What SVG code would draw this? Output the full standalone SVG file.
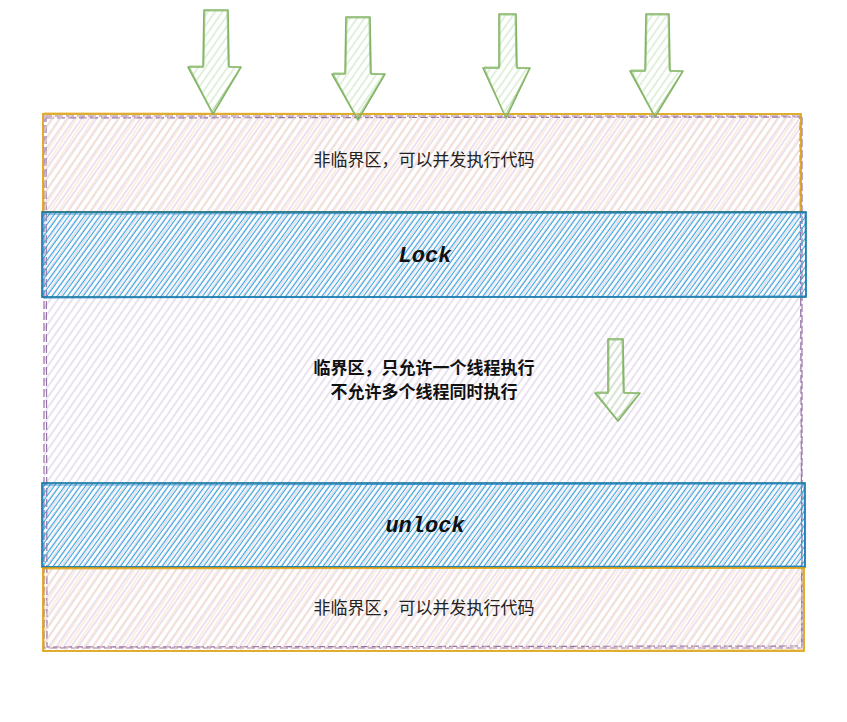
<svg xmlns="http://www.w3.org/2000/svg" width="847" height="722" viewBox="0 0 847 722">
<defs>
<pattern id="hPurple" width="6" height="6" patternUnits="userSpaceOnUse" patternTransform="rotate(35)">
<line x1="3" y1="0" x2="3" y2="6" stroke="#dccfe5" stroke-width="1.2"/>
</pattern>
<pattern id="hOrange" width="7" height="7" patternUnits="userSpaceOnUse" patternTransform="rotate(33)">
<line x1="3" y1="0" x2="3" y2="7" stroke="#fcdcc2" stroke-width="1.3" stroke-opacity="0.8"/>
</pattern>
<pattern id="hBlue" width="4.2" height="4.2" patternUnits="userSpaceOnUse" patternTransform="rotate(36)">
<line x1="2" y1="0" x2="2" y2="4.2" stroke="#35a6e0" stroke-width="1.1"/>
</pattern>
<pattern id="hGreen" width="6" height="6" patternUnits="userSpaceOnUse" patternTransform="rotate(35)">
<line x1="3" y1="0" x2="3" y2="6" stroke="#cde6c4" stroke-width="1.2"/>
</pattern>
<style>
.purple{fill:url(#hPurple);stroke:#9673a6;stroke-width:1.2;stroke-dasharray:8 3}
.orange{fill:url(#hOrange);stroke:#d79b00;stroke-width:1.6}
.orange2{fill:none;stroke:#e3ab2a;stroke-width:1;stroke-opacity:0.8}
.blue{fill:url(#hBlue);stroke:#10739e;stroke-width:1.6}
.blue2{fill:none;stroke:#1b7fc0;stroke-width:1;stroke-opacity:0.8}
.arrow{fill:url(#hGreen);stroke:#82b366;stroke-width:1.6;stroke-linejoin:round}
.arrow2{fill:none;stroke:#8fc070;stroke-width:1;stroke-opacity:0.8}
.cn{font-family:"Liberation Sans","Noto Sans CJK SC",sans-serif;font-size:17px;fill:#222;text-anchor:middle}
.cnb{font-family:"Liberation Sans","Noto Sans CJK SC",sans-serif;font-size:17px;font-weight:bold;fill:#111;text-anchor:middle}
.code{font-family:"Courier New","Liberation Mono",monospace;font-size:22px;font-weight:bold;font-style:italic;fill:#111;text-anchor:middle}
</style>
</defs>
<rect width="847" height="722" fill="#ffffff"/>

<g id="critical-region">
<rect class="purple" x="44" y="116" width="758" height="532"/>
<path class="purple" style="fill:none" d="M46 118 L800 117 L802 646 L47 647 Z"/>
<text class="cnb" x="424" y="374">临界区，只允许一个线程执行</text>
<text class="cnb" x="424" y="398">不允许多个线程同时执行</text>
</g>

<g id="non-critical-top">
<rect class="orange" x="43" y="114" width="758" height="98"/>
<path class="orange2" d="M44 113 L801 114 L800 211 M43 113 L44 212"/>
<text class="cn" x="424" y="166">非临界区，可以并发执行代码</text>
</g>

<g id="lock">
<rect class="blue" x="42" y="212" width="764" height="85"/>
<path class="blue2" d="M43 214 L805 213 L806 296 L43 298 Z"/>
<text class="code" x="425" y="262">Lock</text>
</g>

<g id="unlock">
<rect class="blue" x="42" y="483" width="763" height="84"/>
<path class="blue2" d="M43 485 L804 484 L805 566 L43 567 Z"/>
<text class="code" x="425" y="532">unlock</text>
</g>

<g id="non-critical-bottom">
<rect class="orange" x="43" y="568" width="761" height="83"/>
<path class="orange2" d="M44 569 L803 568 L804 650 L44 651 Z"/>
<text class="cn" x="424" y="614">非临界区，可以并发执行代码</text>
</g>

<g id="arrow-1">
<polygon class="arrow" points="204,10 228,10 229,67 241,67 213,114 188,67 203,67"/>
<path class="arrow2" d="M205 11 L227 11 L228 66 L240 68 L212 112 L189 66 L204 66 Z"/>
</g>
<g id="arrow-2">
<polygon class="arrow" points="346,17 370,17 371,74 385,74 358,120 332,74 345,74"/>
<path class="arrow2" d="M347 18 L369 18 L370 73 L384 75 L357 118 L333 73 L346 73 Z"/>
</g>
<g id="arrow-3">
<polygon class="arrow" points="499,14 516,14 517,68 530,68 506,118 483,68 499,68"/>
<path class="arrow2" d="M500 15 L515 15 L516 67 L529 69 L505 116 L484 67 L500 67 Z"/>
</g>
<g id="arrow-4">
<polygon class="arrow" points="646,14 669,14 670,71 683,71 655,117 630,71 645,71"/>
<path class="arrow2" d="M647 15 L668 15 L669 70 L682 72 L654 115 L631 70 L646 70 Z"/>
</g>
<g id="arrow-5">
<polygon class="arrow" points="608,339 623,339 624,393 640,393 618,421 595,393 608,393"/>
<path class="arrow2" d="M609 340 L622 340 L623 392 L639 394 L617 419 L596 392 L609 392 Z"/>
</g>

<g id="connectors"/>
</svg>
